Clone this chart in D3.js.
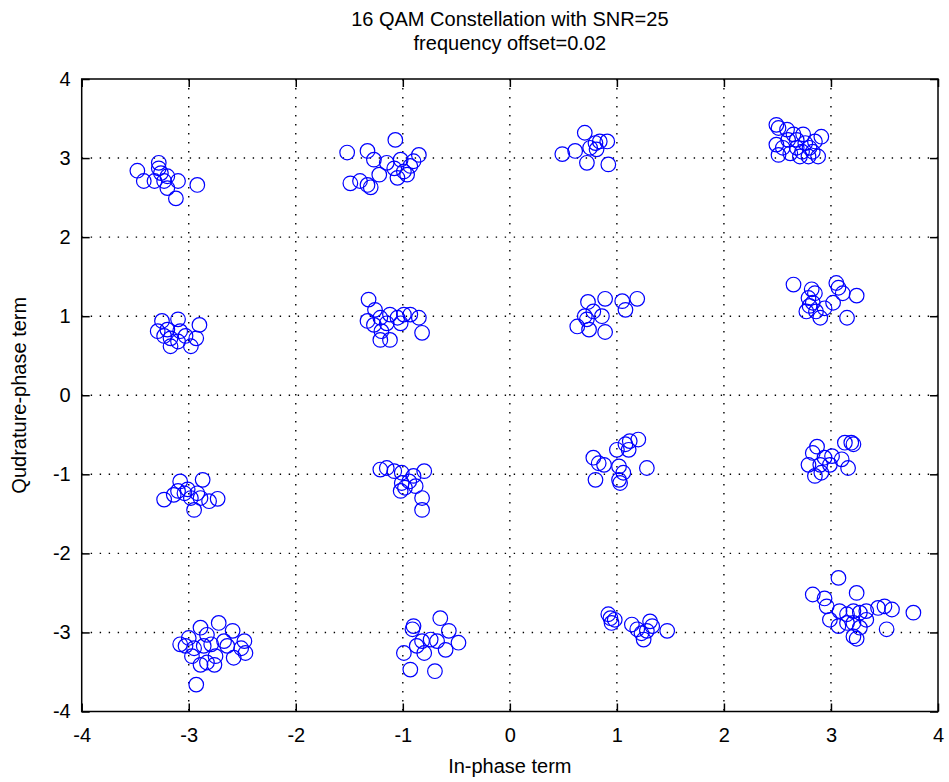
<!DOCTYPE html>
<html>
<head>
<meta charset="utf-8">
<script src="https://cdn.jsdelivr.net/npm/d3@7/dist/d3.min.js"></script>
<style>
  html, body { margin: 0; padding: 0; background: #ffffff; }
  svg { display: block; }
  text { font-family: "Liberation Sans", Arial, Helvetica, sans-serif; fill: #000; }
</style>
</head>
<body>
<svg id="chart" width="949" height="782"></svg>
<script>
// ---- Data ----
const titleLines = ["16 QAM Constellation with SNR=25", "frequency offset=0.02"];
const xLabel = "In-phase term";
const yLabel = "Qudrature-phase term";
const xTicks = [-4, -3, -2, -1, 0, 1, 2, 3, 4];
const yTicks = [-4, -3, -2, -1, 0, 1, 2, 3, 4];

// In-phase (I) values of the received symbols
const inPhase = [
  // (-3, 3)
  -3.48,-3.42,-3.28,-3.28,-3.26,-3.32,-3.23,-3.20,-3.10,-3.12,-2.92,-3.20,
  // (-1, 3)
  -1.52,-1.33,-1.27,-1.07,-1.15,-1.22,-1.49,-1.40,-1.33,-1.30,-1.02,-1.05,-0.99,-0.93,-0.85,-0.90,-0.96,-1.08,
  // (1, 3)
  0.70,0.49,0.61,0.72,0.80,0.84,0.91,0.81,0.92,0.75,
  // (3, 3)
  2.49,2.51,2.49,2.51,2.59,2.60,2.65,2.68,2.71,2.74,2.76,2.80,2.79,2.85,2.91,2.88,2.83,2.68,2.55,2.62,2.73,
  // (-3, 1)
  -3.25,-3.10,-2.90,-3.29,-3.20,-3.08,-3.17,-3.17,-2.98,-2.93,-3.03,-3.23,-3.10,
  // (-1, 1)
  -1.32,-1.26,-1.33,-1.27,-1.21,-1.20,-1.21,-1.12,-1.12,-1.05,-0.99,-0.93,-0.85,-0.82,-1.15,-1.02,
  // (1, 1)
  0.73,0.89,1.05,1.19,1.08,0.70,0.86,0.63,0.74,0.89,0.78,0.72,
  // (3, 1)
  2.65,2.82,2.85,2.79,2.80,2.83,2.86,2.90,3.05,3.07,3.11,3.02,3.24,3.15,2.94,2.77,
  // (-3, -1)
  -3.23,-3.08,-3.10,-3.04,-2.98,-2.95,-2.87,-2.89,-2.81,-2.73,-3.01,-2.92,-3.14,
  // (-1, -1)
  -1.21,-1.15,-1.08,-1.01,-1.01,-1.02,-0.94,-0.88,-0.80,-0.82,-0.82,-0.90,-0.98,
  // (1, -1)
  0.78,0.83,0.80,1.00,1.08,1.12,1.20,1.11,1.02,1.06,1.02,1.03,1.28,0.88,
  // (3, -1)
  2.87,2.83,2.79,2.85,2.91,2.94,3.01,2.99,3.13,3.19,3.21,3.16,3.10,2.90,
  // (-3, -3)
  -3.08,-3.03,-2.89,-2.83,-2.72,-2.59,-2.95,-2.86,-2.97,-2.89,-2.76,-2.75,-2.64,-2.58,-2.51,-2.47,-2.48,-2.67,-2.79,-2.93,-2.83,-3.00,
  // (-1, -3)
  -0.65,-0.90,-0.57,-0.48,-0.99,-0.82,-0.74,-0.68,-0.60,-0.80,-0.93,-0.70,-0.87,-0.91,
  // (1, -3)
  0.92,0.94,0.95,0.98,1.14,1.19,1.23,1.25,1.31,1.33,1.47,1.28,
  // (3, -3)
  3.07,2.83,2.94,3.24,2.96,2.99,3.07,3.08,3.15,3.21,3.27,3.33,3.21,3.21,3.24,3.27,3.44,3.50,3.57,3.52,3.77,3.15,3.33
];

// Quadrature (Q) values of the received symbols
const quadrature = [
  // (-3, 3)
  2.84,2.71,2.94,2.87,2.81,2.71,2.71,2.62,2.71,2.49,2.66,2.77,
  // (-1, 3)
  3.07,3.09,2.98,3.23,2.94,2.79,2.68,2.71,2.66,2.63,2.98,2.75,2.83,2.90,3.04,2.96,2.79,2.87,
  // (1, 3)
  3.32,3.05,3.09,2.94,3.19,3.21,3.21,3.11,2.92,3.13,
  // (3, 3)
  3.42,3.38,3.17,3.04,3.36,3.23,3.30,3.13,3.02,3.30,3.19,3.13,3.02,3.21,3.27,3.02,3.08,3.23,3.13,3.06,3.08,
  // (-3, 1)
  0.94,0.96,0.89,0.81,0.83,0.81,0.72,0.62,0.62,0.72,0.75,0.75,0.68,
  // (-1, 1)
  1.21,1.08,0.94,0.89,0.98,0.81,0.70,0.70,1.02,0.98,1.02,1.02,0.98,0.79,0.91,0.91,
  // (1, 1)
  1.18,1.22,1.19,1.22,1.08,1.00,1.00,0.87,0.83,0.80,1.06,0.96,
  // (3, 1)
  1.40,1.34,1.29,1.23,1.13,1.17,1.06,0.98,1.42,1.36,1.29,1.17,1.26,0.98,1.10,1.06,
  // (-3, -1)
  -1.32,-1.09,-1.21,-1.24,-1.30,-1.45,-1.07,-1.30,-1.34,-1.31,-1.19,-1.24,-1.26,
  // (-1, -1)
  -0.94,-0.92,-0.96,-0.98,-1.11,-1.21,-1.09,-1.15,-0.96,-1.30,-1.45,-1.02,-1.17,
  // (1, -1)
  -0.79,-0.86,-1.07,-0.69,-0.62,-0.58,-0.56,-0.69,-0.90,-0.98,-1.07,-1.11,-0.92,-0.88,
  // (3, -1)
  -0.65,-0.73,-0.88,-1.02,-0.98,-0.79,-0.77,-0.88,-0.60,-0.60,-0.62,-0.92,-0.81,-0.88,
  // (-3, -3)
  -3.15,-3.17,-2.94,-3.03,-2.88,-2.98,-3.20,-3.17,-3.30,-3.41,-3.41,-3.30,-3.17,-3.32,-3.20,-3.26,-3.11,-3.11,-3.15,-3.66,-3.38,-3.07,
  // (-1, -3)
  -2.82,-2.92,-2.98,-3.13,-3.26,-3.11,-3.09,-3.11,-3.22,-3.26,-3.47,-3.49,-3.17,-2.96,
  // (1, -3)
  -2.77,-2.82,-2.88,-2.84,-2.90,-2.96,-3.01,-3.09,-2.86,-2.92,-2.98,-2.98,
  // (3, -3)
  -2.31,-2.52,-2.57,-2.50,-2.67,-2.84,-2.92,-2.73,-2.77,-2.73,-2.75,-2.73,-2.88,-3.05,-3.08,-2.94,-2.69,-2.67,-2.71,-2.96,-2.75,-2.88,-2.84
];

// ---- Layout ----
const W = 949, H = 782;
const plot = { left: 81.7, right: 938, top: 79, bottom: 711.5 };
const FS = 20;

const svg = d3.select("#chart");
svg.append("rect").attr("width", W).attr("height", H).attr("fill", "#ffffff");

const x = d3.scaleLinear().domain([-4, 4]).range([plot.left, plot.right]);
const y = d3.scaleLinear().domain([-4, 4]).range([plot.bottom, plot.top]);

// plot background
svg.append("rect")
  .attr("x", plot.left).attr("y", plot.top)
  .attr("width", plot.right - plot.left).attr("height", plot.bottom - plot.top)
  .attr("fill", "#ffffff");

// grid
const grid = svg.append("g").attr("stroke", "#000").attr("stroke-width", 1.4)
  .attr("stroke-dasharray", "1.4,7.6").attr("fill", "none");
grid.selectAll("line.gx").data(xTicks.filter(t => t > -4 && t < 4)).join("line")
  .attr("class", "gx")
  .attr("x1", d => x(d)).attr("x2", d => x(d))
  .attr("y1", plot.top).attr("y2", plot.bottom);
grid.selectAll("line.gy").data(yTicks.filter(t => t > -4 && t < 4)).join("line")
  .attr("class", "gy")
  .attr("y1", d => y(d)).attr("y2", d => y(d))
  .attr("x1", plot.left).attr("x2", plot.right);

// points
const pts = inPhase.map((v, i) => [v, quadrature[i]]);
svg.append("g").selectAll("circle").data(pts).join("circle")
  .attr("cx", d => x(d[0])).attr("cy", d => y(d[1]))
  .attr("r", 7.3)
  .attr("fill", "none").attr("stroke", "#0000ff").attr("stroke-width", 1.2);

// axes
const TL = 8;
const fmt = d => String(d);   // plain hyphen-minus, as in the reference
function styleAxis(g, noLabels) {
  g.select(".domain").remove();
  g.selectAll(".tick line").attr("stroke", "#000").attr("stroke-width", 1.5);
  g.selectAll(".tick text").attr("font-size", FS).attr("font-family", '"Liberation Sans", Arial, sans-serif').attr("fill", "#000");
  if (noLabels) g.selectAll(".tick text").remove();
}
svg.append("g").attr("transform", `translate(0,${plot.bottom})`)
  .call(d3.axisBottom(x).tickValues(xTicks).tickFormat(fmt).tickSizeInner(-TL).tickSizeOuter(0).tickPadding(16))
  .call(g => styleAxis(g, false));
svg.append("g").attr("transform", `translate(0,${plot.top})`)
  .call(d3.axisTop(x).tickValues(xTicks).tickSizeInner(-TL).tickSizeOuter(0))
  .call(g => styleAxis(g, true));
svg.append("g").attr("transform", `translate(${plot.left},0)`)
  .call(d3.axisLeft(y).tickValues(yTicks).tickFormat(fmt).tickSizeInner(-TL).tickSizeOuter(0).tickPadding(11))
  .call(g => styleAxis(g, false));
svg.append("g").attr("transform", `translate(${plot.right},0)`)
  .call(d3.axisRight(y).tickValues(yTicks).tickSizeInner(-TL).tickSizeOuter(0))
  .call(g => styleAxis(g, true));

// box
svg.append("rect")
  .attr("x", plot.left).attr("y", plot.top)
  .attr("width", plot.right - plot.left).attr("height", plot.bottom - plot.top)
  .attr("fill", "none").attr("stroke", "#000").attr("stroke-width", 1.5);

// title
const cx = (plot.left + plot.right) / 2;
svg.append("text").attr("x", cx).attr("y", 26).attr("text-anchor", "middle")
  .attr("font-size", FS).text(titleLines[0]);
svg.append("text").attr("x", cx).attr("y", 50).attr("text-anchor", "middle")
  .attr("font-size", FS).text(titleLines[1]);

// axis labels
svg.append("text").attr("x", cx).attr("y", 773).attr("text-anchor", "middle")
  .attr("font-size", FS).text(xLabel);
svg.append("text")
  .attr("transform", `translate(26,${(plot.top + plot.bottom) / 2}) rotate(-90)`)
  .attr("text-anchor", "middle").attr("font-size", FS).text(yLabel);
</script>
</body>
</html>
